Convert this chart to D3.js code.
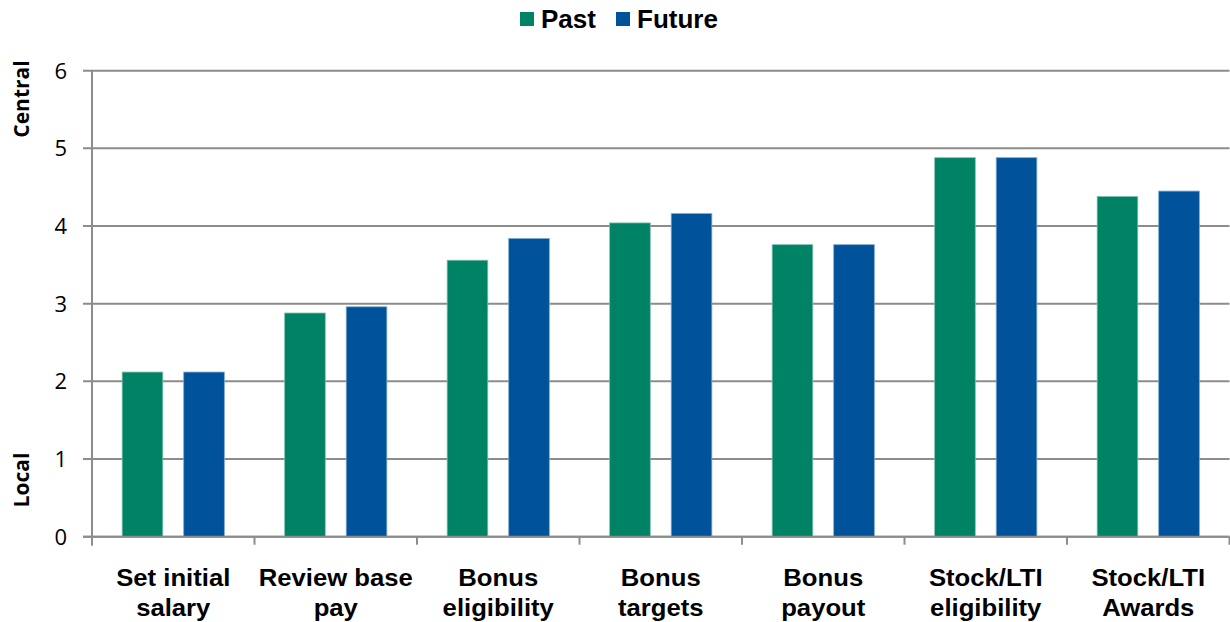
<!DOCTYPE html>
<html lang="en">
<head>
<meta charset="utf-8">
<title>Past vs Future</title>
<script src="https://d3js.org/d3.v7.min.js"></script>
<style>
  body { margin: 0; background: #fff; }
  .tick-y { font-family: "Open Sans", sans-serif; font-size: 22px; fill: #000; }
  .cat { font-family: "Liberation Sans", Arial, sans-serif; font-weight: bold; font-size: 24px; fill: #000; }
  .legend { font-family: "Liberation Sans", Arial, sans-serif; font-weight: bold; font-size: 26px; }
  .ylab { font-family: "Open Sans", sans-serif; font-weight: bold; font-size: 21px; }
</style>
</head>
<body>
<div id="chart"></div>
<script>
var categories = [
  ["Set initial", "salary"],
  ["Review base", "pay"],
  ["Bonus", "eligibility"],
  ["Bonus", "targets"],
  ["Bonus", "payout"],
  ["Stock/LTI", "eligibility"],
  ["Stock/LTI", "Awards"]
];
var past   = [2.12, 2.88, 3.56, 4.04, 3.76, 4.88, 4.38];
var future = [2.12, 2.96, 3.84, 4.16, 3.76, 4.88, 4.45];
var seriesNames = ["Past", "Future"];
var yTicks = [0, 1, 2, 3, 4, 5, 6];

var colors = { Past: "#008264", Future: "#00529b" };

var width = 1230, height = 622;
var plotLeft = 92, plotRight = 1229.5, plotTop = 70.7, plotBottom = 536.7;

var svg = d3.select("#chart").append("svg")
    .attr("width", width)
    .attr("height", height);

var x = d3.scaleBand()
    .domain(d3.range(categories.length))
    .range([plotLeft, plotRight]);

var xs = d3.scaleBand()
    .domain(seriesNames)
    .range([0, x.bandwidth()])
    .paddingInner(0.34)
    .paddingOuter(0.49);

var y = d3.scaleLinear().domain([0, 6]).range([plotBottom, plotTop]);

// gridlines
svg.append("g").selectAll("line")
    .data(yTicks)
    .enter().append("line")
    .attr("x1", plotLeft - 9).attr("x2", plotRight)
    .attr("y1", function(d) { return y(d); })
    .attr("y2", function(d) { return y(d); })
    .attr("stroke", "#8c8c8c")
    .attr("stroke-width", 2);

svg.append("g").selectAll("text")
    .data(yTicks)
    .enter().append("text")
    .attr("class", "tick-y")
    .attr("x", 67)
    .attr("y", function(d) { return y(d) + 8; })
    .attr("text-anchor", "end")
    .text(function(d) { return d; });

// bars
var data = categories.map(function(c, i) {
    return [{ s: "Past", v: past[i] }, { s: "Future", v: future[i] }];
});

var groups = svg.append("g").selectAll("g")
    .data(data)
    .enter().append("g")
    .attr("transform", function(d, i) { return "translate(" + x(i) + ",0)"; });

groups.selectAll("rect")
    .data(function(d) { return d; })
    .enter().append("rect")
    .attr("x", function(d) { return xs(d.s); })
    .attr("width", xs.bandwidth())
    .attr("y", function(d) { return y(d.v); })
    .attr("height", function(d) { return y(0) - y(d.v); })
    .attr("fill", function(d) { return colors[d.s]; })
    .attr("stroke", function(d) { return d.s === "Past" ? "#7fbfae" : "#7fa8cc"; })
    .attr("stroke-width", 0.8);

// axes lines
svg.append("line")
    .attr("x1", plotLeft).attr("x2", plotLeft)
    .attr("y1", plotTop).attr("y2", plotBottom + 9)
    .attr("stroke", "#8c8c8c").attr("stroke-width", 2);

svg.append("line")
    .attr("x1", plotLeft - 9).attr("x2", plotRight)
    .attr("y1", plotBottom).attr("y2", plotBottom)
    .attr("stroke", "#8c8c8c").attr("stroke-width", 2);

svg.append("g").selectAll("line")
    .data(d3.range(categories.length + 1))
    .enter().append("line")
    .attr("x1", function(d) { return plotLeft + d * x.step(); })
    .attr("x2", function(d) { return plotLeft + d * x.step(); })
    .attr("y1", plotBottom).attr("y2", plotBottom + 8)
    .attr("stroke", "#8c8c8c").attr("stroke-width", 2);

// category labels
var cat = svg.append("g").selectAll("text")
    .data(categories)
    .enter().append("text")
    .attr("class", "cat")
    .attr("text-anchor", "middle")
    .attr("transform", function(d, i) {
        return "translate(" + (x(i) + x.bandwidth() / 2) + ",0) scale(1.07,1)";
    });

cat.append("tspan").attr("x", 0).attr("y", 586).text(function(d) { return d[0]; });
cat.append("tspan").attr("x", 0).attr("y", 616).text(function(d) { return d[1]; });

// y labels
svg.append("text")
    .attr("class", "ylab")
    .attr("text-anchor", "middle")
    .attr("transform", "translate(29,99) rotate(-90)")
    .text("Central");

svg.append("text")
    .attr("class", "ylab")
    .attr("text-anchor", "middle")
    .attr("transform", "translate(29,480) rotate(-90)")
    .text("Local");

// legend
var legendX = [520, 616];
var leg = svg.append("g").selectAll("g")
    .data(seriesNames)
    .enter().append("g")
    .attr("transform", function(d, i) { return "translate(" + legendX[i] + ",12)"; });

leg.append("rect")
    .attr("width", 14).attr("height", 14)
    .attr("fill", function(d) { return colors[d]; });

leg.append("text")
    .attr("class", "legend")
    .attr("x", 21).attr("y", 16)
    .text(function(d) { return d; });
</script>
</body>
</html>
